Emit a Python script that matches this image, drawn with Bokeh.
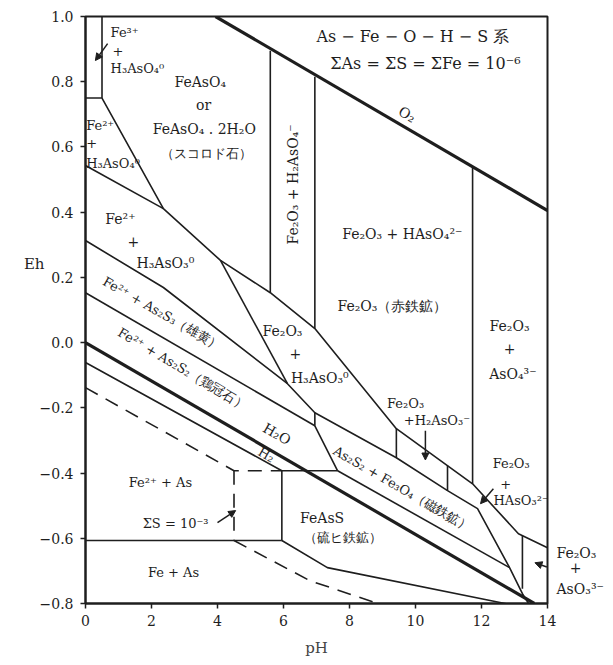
import math
from bokeh.plotting import figure
from bokeh.models import Label, Arrow, NormalHead, FixedTicker, CustomJSTickFormatter, LinearAxis
from bokeh.embed import file_html
from bokeh.resources import INLINE

# ---------------- axis ticks ----------------
ph_ticks = [0, 2, 4, 6, 8, 10, 12, 14]
eh_ticks = [-0.8, -0.6, -0.4, -0.2, 0.0, 0.2, 0.4, 0.6, 0.8, 1.0]
eh_tick_labels = ["\u22120.8", "\u22120.6", "\u22120.4", "\u22120.2", "0.0", "0.2", "0.4", "0.6", "0.8", "1.0"]

# ---------------- boundaries (pH, Eh) ----------------
o2_ph = [3.94, 14.0]
o2_eh = [1.0, 0.405]
h2o_ph = [0.0, 13.6]
h2o_eh = [0.0, -0.80]

fe3_v_ph = [0.5, 0.5]
fe3_v_eh = [1.0, 0.75]
fe3_h_ph = [0.0, 0.5]
fe3_h_eh = [0.75, 0.75]

feaso4_ph = [0.5, 2.36, 4.09, 5.6, 6.95, 9.42, 11.73, 13.12, 14.0]
feaso4_eh = [0.75, 0.411, 0.252, 0.153, 0.043, -0.264, -0.433, -0.586, -0.629]

h3aso4_ph = [0.0, 2.36]
h3aso4_eh = [0.543, 0.411]

as2s3_top_ph = [0.0, 2.36, 6.12, 6.95, 9.42, 10.97, 11.88, 12.85, 13.24, 13.55]
as2s3_top_eh = [0.313, 0.169, -0.126, -0.215, -0.353, -0.454, -0.509, -0.69, -0.77, -0.82]

fe2_fe2o3_ph = [4.09, 6.12]
fe2_fe2o3_eh = [0.252, -0.126]

as2s2_top_ph = [0.0, 6.95]
as2s2_top_eh = [0.153, -0.255]

as2s2_fe3o4_ph = [6.95, 6.95, 7.64]
as2s2_fe3o4_eh = [-0.215, -0.255, -0.393]

feass_top_ph = [7.64, 12.85]
feass_top_eh = [-0.393, -0.69]

h2_ph = [0.0, 5.95, 7.64]
h2_eh = [-0.061, -0.393, -0.393]

feass_left_ph = [5.95, 5.95]
feass_left_eh = [-0.393, -0.607]

fe_as_ph = [0.0, 5.95]
fe_as_eh = [-0.607, -0.607]

feass_low_ph = [5.95, 7.33, 13.5]
feass_low_eh = [-0.607, -0.69, -0.816]

v_ph = [5.6, 6.95, 9.42, 10.97, 11.73, 13.24]
v_eh_top = [0.895, 0.815, -0.264, -0.377, 0.54, -0.592]
v_eh_bot = [0.153, 0.043, -0.353, -0.454, -0.433, -0.755]

s3_ph = [0.0, 4.5, 5.95]
s3_eh = [-0.138, -0.393, -0.393]
s3v_ph = [4.5, 4.5]
s3v_eh = [-0.393, -0.607]
s3b_ph = [4.5, 6.8, 8.85]
s3b_eh = [-0.607, -0.73, -0.80]

# labels that sit outside the frame (right margin)
right_labels = ["Fe₂O₃", "\u00a0\u00a0\u00a0+", "AsO₃³⁻"]
right_label_eh = [-0.644, -0.69, -0.755]

SERIF = "DejaVu Serif"
INK = "#1e1e1e"

p = figure(width=613, height=665, output_backend="svg", toolbar_location=None,
           x_range=(0, 14), y_range=(-0.8, 1.0),
           min_border_left=85, min_border_right=66, min_border_top=16, min_border_bottom=62)
p.background_fill_color = "white"
p.border_fill_color = "white"
p.outline_line_color = INK
p.outline_line_width = 2
p.grid.visible = False

for ax in (p.xaxis, p.yaxis):
    ax.axis_line_width = 2
    ax.axis_line_color = INK
    ax.major_tick_line_color = INK
    ax.major_tick_line_width = 1.5
    ax.major_tick_in = 0
    ax.major_tick_out = 5
    ax.minor_tick_line_color = None
    ax.major_label_text_font = SERIF
    ax.major_label_text_font_size = "14px"
    ax.major_label_text_color = INK

p.xaxis.ticker = FixedTicker(ticks=ph_ticks)
p.yaxis.ticker = FixedTicker(ticks=eh_ticks)
p.yaxis.formatter = CustomJSTickFormatter(args=dict(eh_vals=eh_ticks, eh_labs=eh_tick_labels), code="""
const i = eh_vals.findIndex(t => Math.abs(t - tick) < 1e-6);
return i >= 0 ? eh_labs[i] : tick.toFixed(1);
""")
p.xaxis.major_label_standoff = 6
p.yaxis.major_label_standoff = 7
p.xaxis.axis_label = "pH"
p.xaxis.axis_label_text_font = SERIF
p.xaxis.axis_label_text_font_style = "normal"
p.xaxis.axis_label_text_font_size = "15px"
p.xaxis.axis_label_standoff = 10

# "Eh" as a horizontal label beside the y axis (outer, label-only axis)
eh_axis = LinearAxis(ticker=FixedTicker(ticks=[0.242]),
                     formatter=CustomJSTickFormatter(code="return 'Eh';"),
                     axis_line_color=None, major_tick_line_color=None, minor_tick_line_color=None,
                     major_tick_out=0, major_tick_in=0,
                     major_label_text_font=SERIF, major_label_text_font_size="15px",
                     major_label_text_color=INK, major_label_standoff=-8)
p.add_layout(eh_axis, "left")

# species labels in the right margin (label-only axis)
r_axis = LinearAxis(ticker=FixedTicker(ticks=right_label_eh),
                    formatter=CustomJSTickFormatter(args=dict(labs=right_labels),
                                                    code="return labs[index];"),
                    axis_line_color=None, major_tick_line_color=None, minor_tick_line_color=None,
                    major_tick_out=0, major_tick_in=0,
                    major_label_text_font=SERIF, major_label_text_font_size="14px",
                    major_label_text_color=INK, major_label_standoff=9)
p.add_layout(r_axis, "right")

thin = [
    (fe3_v_ph, fe3_v_eh), (fe3_h_ph, fe3_h_eh), (feaso4_ph, feaso4_eh),
    (h3aso4_ph, h3aso4_eh), (as2s3_top_ph, as2s3_top_eh), (fe2_fe2o3_ph, fe2_fe2o3_eh),
    (as2s2_top_ph, as2s2_top_eh), (as2s2_fe3o4_ph, as2s2_fe3o4_eh), (feass_top_ph, feass_top_eh),
    (h2_ph, h2_eh), (feass_left_ph, feass_left_eh), (fe_as_ph, fe_as_eh), (feass_low_ph, feass_low_eh),
]
for x, t, b in zip(v_ph, v_eh_top, v_eh_bot):
    thin.append(([x, x], [t, b]))
p.multi_line(xs=[a for a, _ in thin], ys=[b for _, b in thin], line_color=INK, line_width=1.6)

p.multi_line(xs=[o2_ph, h2o_ph], ys=[o2_eh, h2o_eh], line_color=INK, line_width=3.2)

p.multi_line(xs=[s3_ph, s3v_ph, s3b_ph], ys=[s3_eh, s3v_eh, s3b_eh], line_color=INK,
             line_width=1.6, line_dash="14 9")

def lab(text, x, y, angle=0.0, size=14, align="center"):
    p.add_layout(Label(x=x, y=y, text=text, angle=math.radians(angle), text_align=align,
                       text_baseline="middle", text_font=SERIF, text_font_size=f"{size}px",
                       text_color=INK))

lab("Fe³⁺", 0.76, 0.95, align="left", size=13)
lab("+", 0.82, 0.893, align="left", size=13)
lab("H₃AsO₄⁰", 0.76, 0.84, align="left", size=13)

lab("FeAsO₄", 3.48, 0.80)
lab("or", 3.58, 0.73)
lab("FeAsO₄ . 2H₂O", 3.6, 0.656)
lab("（スコロド石）", 3.66, 0.58, size=13)

lab("Fe²⁺", 0.02, 0.666, align="left", size=13)
lab("+", 0.02, 0.613, align="left", size=13)
lab("H₃AsO₄⁰", 0.02, 0.549, align="left", size=13)

lab("Fe²⁺", 1.06, 0.38)
lab("+", 1.45, 0.31)
lab("H₃AsO₃⁰", 2.42, 0.245)

lab("Fe²⁺ + As₂S₃（雄黄）", 2.33, 0.089, angle=-29.6, size=13)
lab("Fe²⁺ + As₂S₂（鶏冠石）", 2.94, -0.08, angle=-30.6, size=13)
lab("H₂O", 5.8, -0.28, angle=-30)
lab("H₂", 5.48, -0.344, angle=-30, size=13)

lab("Fe₂O₃ + H₂AsO₄⁻", 6.3, 0.485, angle=90)
lab("O₂", 9.75, 0.70, angle=-30.3)

lab("As − Fe − O − H − S  系", 10.0, 0.94, size=16)
lab("ΣAs = ΣS = ΣFe = 10⁻⁶", 10.3, 0.856, size=16)

lab("Fe₂O₃ + HAsO₄²⁻", 9.6, 0.334)
lab("Fe₂O₃（赤鉄鉱）", 9.3, 0.113)

lab("Fe₂O₃", 12.85, 0.052)
lab("+", 12.85, -0.018)
lab("AsO₄³⁻", 12.95, -0.095)

lab("Fe₂O₃", 5.97, 0.037)
lab("+", 6.36, -0.034)
lab("H₃AsO₃⁰", 7.1, -0.107)

lab("Fe₂O₃", 9.7, -0.187, size=13)
lab("+H₂AsO₃⁻", 10.65, -0.24, size=13)

lab("As₂S₂ + Fe₃O₄（磁鉄鉱）", 9.6, -0.448, angle=-30, size=13)

lab("Fe₂O₃", 12.9, -0.37, size=13)
lab("+", 12.73, -0.433, size=13)
lab("HAsO₃²⁻", 13.2, -0.485, size=13)

lab("ΣS = 10⁻³", 2.73, -0.555, size=13)
lab("Fe²⁺ + As", 2.27, -0.43, size=13)
lab("Fe  + As", 2.73, -0.705, size=13)
lab("FeAsS", 7.17, -0.537)
lab("（硫ヒ鉄鉱）", 7.8, -0.598, size=13)

def arrow(x0, y0, x1, y1):
    p.add_layout(Arrow(end=NormalHead(size=7, line_color=INK, fill_color=INK),
                       x_start=x0, y_start=y0, x_end=x1, y_end=y1,
                       line_color=INK, line_width=1.5))

arrow(0.67, 0.917, 0.30, 0.865)
arrow(4.0, -0.552, 4.55, -0.515)
arrow(10.3, -0.27, 10.3, -0.36)
arrow(12.36, -0.448, 11.97, -0.494)
arrow(13.98, -0.688, 13.62, -0.675)

open("out.html", "w").write(file_html(p, INLINE))
